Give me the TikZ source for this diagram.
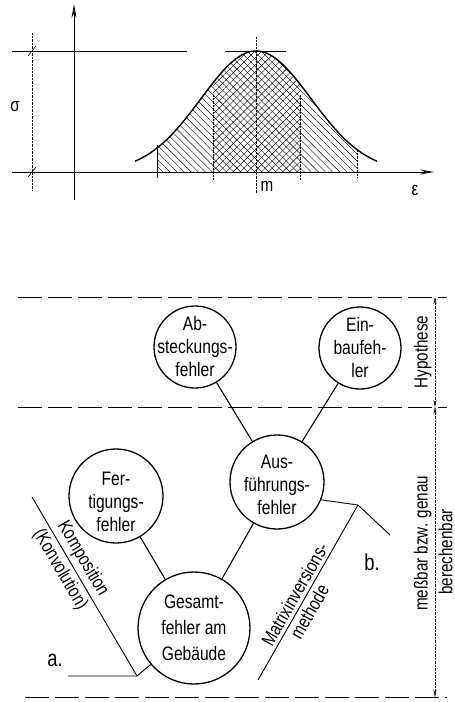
\documentclass[tikz,border=0pt]{standalone}
\usepackage{fontspec}
\setmainfont{Liberation Sans}[FakeStretch=0.8]
\usetikzlibrary{patterns.meta,arrows.meta}

\tikzset{
  fehler/.style={circle,draw,line width=1.3pt,minimum size=#1,inner sep=0pt},
  fehlertext/.style={align=center,inner sep=0pt,font=\fontsize{19.5}{23}\selectfont},
  schrift/.style={font=\fontsize{19}{21}\selectfont},
  verbindung/.style={line width=1.1pt},
  trennlinie/.style={line width=0.9pt,dash pattern=on 24pt off 6pt},
  hilfslinie/.style={densely dotted,line width=0.4pt},
  masslinie/.style={hilfslinie,{Stealth[length=7pt,width=3pt]}-{Stealth[length=7pt,width=3pt]}},
  declare function={glocke(\x)=172-121*exp(-((\x-256)^2)/6050);}
}

\begin{document}
\begin{tikzpicture}[x=1pt,y=-1pt]
  \useasboundingbox (0,0) rectangle (455,702);

  % Verteilung oben
  \fill[pattern={Lines[angle=-45,distance=5pt,line width=0.4pt]}]
    (157,172) -- plot[domain=157:213,samples=20] (\x,{glocke(\x)}) -- (213,172) -- cycle;
  \fill[pattern={Lines[angle=-45,distance=5pt,line width=0.4pt]}]
    (300,172) -- plot[domain=300:357,samples=20] (\x,{glocke(\x)}) -- (357,172) -- cycle;
  \fill[pattern={Lines[angle=-45,distance=5pt,line width=0.4pt]}]
    (213,172) -- plot[domain=213:300,samples=30] (\x,{glocke(\x)}) -- (300,172) -- cycle;
  \fill[pattern={Lines[angle=45,distance=5pt,line width=0.4pt]}]
    (213,172) -- plot[domain=213:300,samples=30] (\x,{glocke(\x)}) -- (300,172) -- cycle;
  \draw[line width=1.4pt] plot[domain=135:377,samples=80] (\x,{glocke(\x)});
  \draw[line width=0.8pt] (225,51) -- (286,51);
  \draw[hilfslinie] (256,37) -- (256,193);
  \draw[hilfslinie] (213,95) -- (213,180);
  \draw[hilfslinie] (300,95) -- (300,180);
  \draw[line width=0.4pt] (157,145) -- (157,178);
  \draw[hilfslinie] (357,150) -- (357,178);
  % Achsen
  \draw[line width=0.9pt,-{Stealth[open,length=14pt,width=5pt]}] (74,200) -- (74,4);
  \draw[line width=0.9pt,-{Stealth[open,length=14pt,width=5pt]}] (12,172) -- (434,172);
  \draw[line width=0.9pt] (12,51) -- (187,51);
  \draw[hilfslinie] (32,33) -- (32,190);
  \draw[line width=0.6pt] (28,56) -- (36,46);
  \draw[line width=0.6pt] (28,177) -- (36,167);
  \node[schrift] (sigma) at (15,107) {σ};
  \node[schrift] (m) at (267,186) {m};
  \node[schrift] (eps) at (415,190) {ε};

  % Trennlinien
  \draw[trennlinie] (18,297) -- (447,297);
  \draw[trennlinie] (18,407) -- (447,407);
  \draw[trennlinie] (25,697) -- (447,697);

  % Fehlerkreise
  \node[fehler=82] (abst) at (195,347) {};
  \node[fehler=82] (einb) at (360,348) {};
  \node[fehler=94] (fert) at (116,496) {};
  \node[fehler=94] (ausf) at (277,482) {};
  \node[fehler=112] (ges) at (194,628) {};
  \node[fehlertext] (abst-t) at (abst) {Ab-\\steckungs-\\fehler};
  \node[fehlertext] (einb-t) at (einb) {Ein-\\baufeh-\\ler};
  \node[fehlertext] (fert-t) at ([yshift=-6]fert) {Fer-\\tigungs-\\fehler};
  \node[fehlertext] (ausf-t) at ([yshift=-3]ausf) {Aus-\\führungs-\\fehler};
  \node[fehlertext,font=\fontsize{19.5}{26}\selectfont] (ges-t) at (ges) {Gesamt-\\fehler am\\Gebäude};

  \draw[verbindung] (abst) -- (ausf);
  \draw[verbindung] (einb) -- (ausf);
  \draw[verbindung] (fert) -- (ges);
  \draw[verbindung] (ausf) -- (ges);

  % Verfahren a. und b.
  \coordinate (k-oben) at (32,497);
  \coordinate (a-knick) at (137,676);
  \coordinate (a-ende) at (68,676);
  \coordinate (m-unten) at (258,680);
  \coordinate (b-knick) at (358,505);
  \coordinate (b-ende) at (390,535);
  \draw[line width=0.9pt] (k-oben) -- node[schrift,sloped,above,pos=0.38] (komp) {Komposition}
    node[schrift,sloped,below,pos=0.37] (konv) {(Konvolution)} (a-knick);
  \draw[line width=0.9pt] (a-ende) -- (a-knick) -- (ges);
  \draw[line width=0.9pt] (m-unten) -- node[schrift,sloped,above,pos=0.46] (matr) {Matrixinversions-}
    node[schrift,sloped,below,pos=0.42] (meth) {methode} (b-knick);
  \draw[line width=0.9pt] (ausf.-22) -- (b-knick) -- (b-ende);
  \node[font=\fontsize{23}{26}\selectfont] (a) at (55,660) {a.};
  \node[font=\fontsize{23}{26}\selectfont] (b) at (372,562) {b.};

  % Bemassung rechts
  \draw[masslinie] (435,297) -- node[schrift,rotate=90,above] (hyp) {Hypothese} (435,407);
  \draw[masslinie] (435,407) -- node[schrift,rotate=90,above,pos=0.47] (mess) {meßbar bzw. genau}
    node[schrift,rotate=90,below,pos=0.5] (ber) {berechenbar} (435,697);
\end{tikzpicture}
\end{document}
